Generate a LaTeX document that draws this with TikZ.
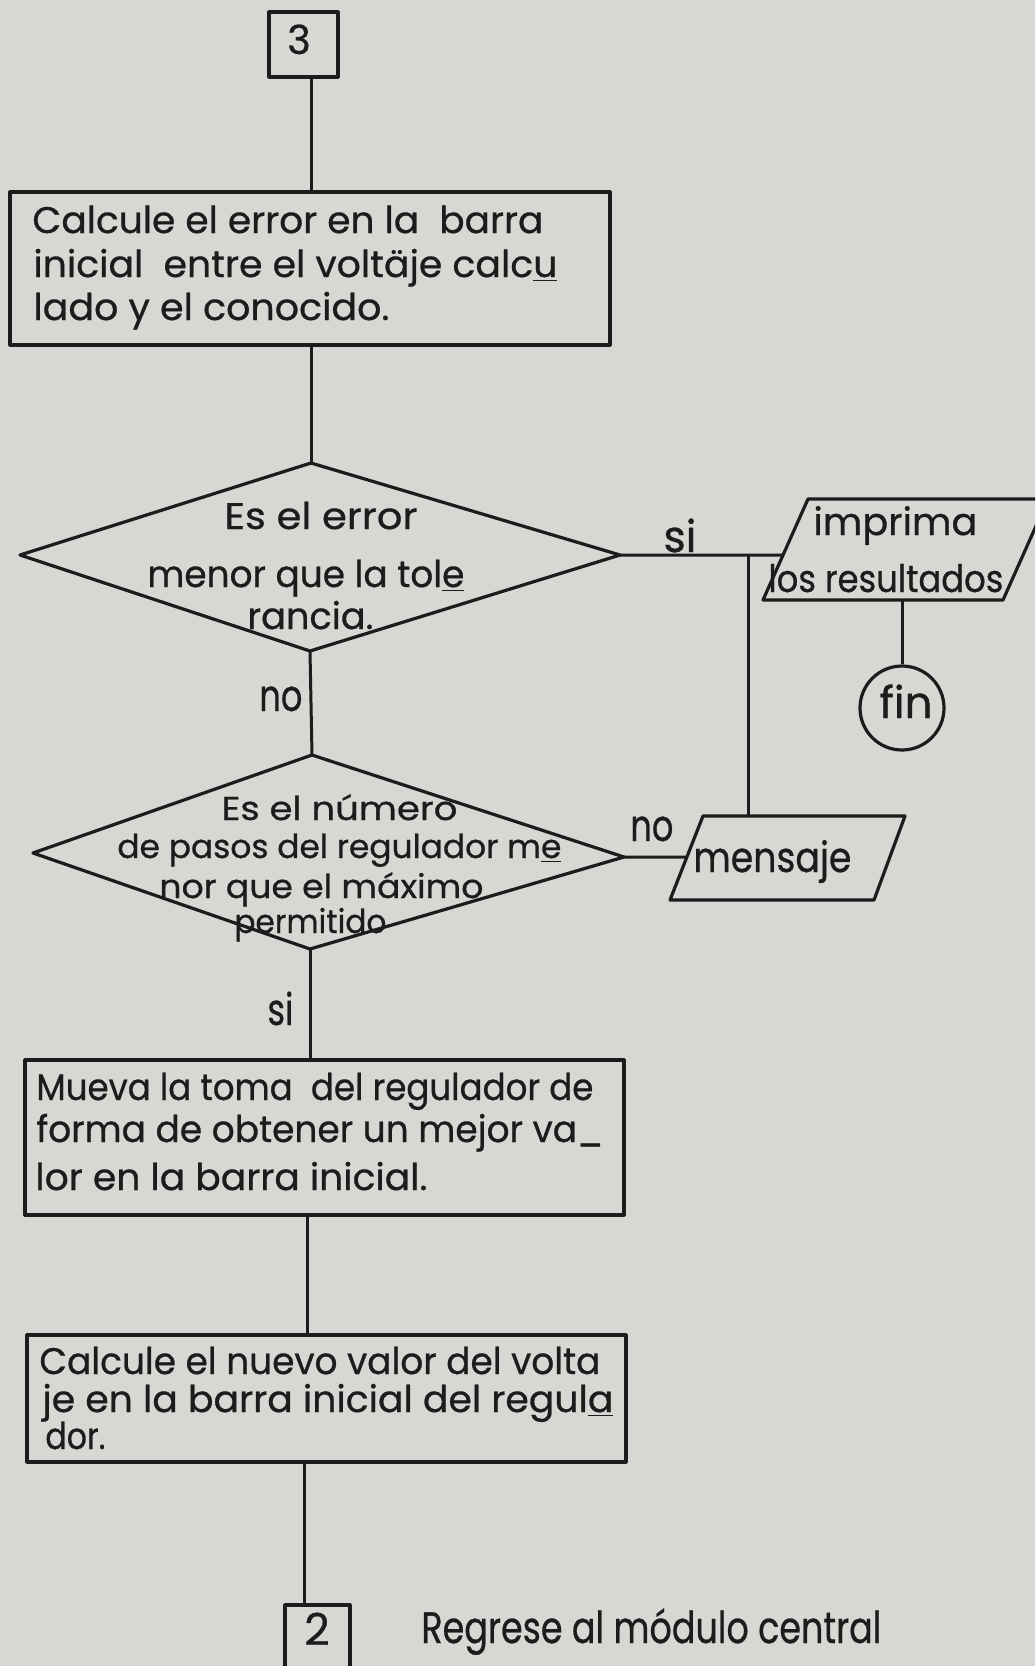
\documentclass[tikz,border=0pt]{standalone}
\usepackage{fontspec}
\usepackage{graphicx}
\newfontfamily\lett[FakeBold=0.7]{Poppins}
\usetikzlibrary{calc}
\definecolor{paper}{RGB}{215,215,212}
\definecolor{ink}{RGB}{28,28,28}
\newcommand{\fw}[2]{\resizebox{#1pt}{\height}{#2}}
\begin{document}
\begin{tikzpicture}[x=0.5pt,y=-0.5pt,line join=round,
  outline/.style={draw=ink,line width=1.6pt},
  conn/.style={draw=ink,line width=1.5pt},
  box/.style={outline,rectangle,inner sep=0pt},
  txt/.style={anchor=base west,inner sep=0pt,text=ink,font=\lett\fontsize{18.5}{20}\selectfont},
  dtxt/.style={txt,font=\lett\fontsize{16.5}{18}\selectfont},
  lbl/.style={txt,font=\lett\fontsize{22}{24}\selectfont}]
\useasboundingbox (0,0) rectangle (1035,1666);
\clip (0,0) rectangle (1035,1666);
\fill[paper] (0,0) rectangle (1035,1666);

% column guides
\coordinate (col1) at (311,0);
\coordinate (col3) at (307,0);
\coordinate (col4) at (304,0);

% box 3
\node[box,minimum width=34.5pt,minimum height=32.5pt] (b3) at (303.5,44.5) {};
\node[txt,anchor=base] (t3) at (299,54) {\fontsize{20}{22}\selectfont 3};

% first process box
\node[box,minimum width=300pt,minimum height=76.5pt] (c1) at (310,268.5) {};
\node[txt] (c1a) at (32,233) {\fw{255.5}{Calcule el error en la\ \ barra}};
\node[txt] (c1b) at (33,277) {\fw{262}{inicial\ \ entre el voltäje calc\underline{u}}};
\node[txt] (c1c) at (33,320) {\fw{178}{lado y el conocido.}};

% decision 1
\coordinate (d1t) at (311,463);
\coordinate (d1r) at (620,555);
\coordinate (d1b) at (310,651);
\coordinate (d1l) at (20,555);
\draw[outline] (d1t) -- (d1r) -- (d1b) -- (d1l) -- cycle;
\node[txt] (d1a) at (224,529) {\fw{96.5}{Es el error}};
\node[txt] (d1b2) at (147,587) {\fw{158.5}{menor que la tol\underline{e}}};
\node[txt] (d1c) at (247,629) {\fw{63}{rancia.}};

% print box
\coordinate (itl) at (808,499);
\coordinate (itr) at (1048,499);
\coordinate (ibr) at (1003,600);
\coordinate (ibl) at (763,600);
\draw[outline] (itl) -- (itr) -- (ibr) -- (ibl) -- cycle;
\path (ibl) -- (itl) coordinate[pos=0.4455] (impL);
\coordinate (impB) at (902,600);
\node[txt] (ia) at (813,535) {\fontsize{19}{21}\selectfont\fw{82}{imprima}};
\node[txt] (ib) at (768,592) {\fontsize{19}{21}\selectfont\fw{117.5}{los resultados}};

% fin
\node[outline,circle,minimum size=42pt,inner sep=0pt] (fin) at (902,708) {};
\node[lbl,anchor=base] (fint) at (906,718) {\fontsize{22}{24}\selectfont\fw{26.5}{fin}};

% decision 2
\coordinate (d2t) at (312,755);
\coordinate (d2r) at (624,857);
\coordinate (d2b) at (310,949);
\coordinate (d2l) at (33,853);
\draw[outline] (d2t) -- (d2r) -- (d2b) -- (d2l) -- cycle;
\node[dtxt] (d2a) at (221,820) {\fw{118}{Es el número}};
\node[dtxt] (d2b2) at (117,858) {\fw{222}{de pasos del regulador m\underline{e}}};
\node[dtxt] (d2c) at (159,898) {\fw{162}{nor que el máximo}};
\node[dtxt] (d2d) at (234,933) {\fw{76}{permitido}};

% message box
\coordinate (mtl) at (703,816);
\coordinate (mtr) at (905,816);
\coordinate (mbr) at (874,900);
\coordinate (mbl) at (670,900);
\draw[outline] (mtl) -- (mtr) -- (mbr) -- (mbl) -- cycle;
\path (mbl) -- (mtl) coordinate[pos=0.512] (menL);
\node[lbl] (mt) at (693,872) {\fontsize{21}{23}\selectfont\fw{79}{mensaje}};

% junction
\coordinate (jn) at (748,555);

% labels
\node[lbl] (si1) at (663,552) {\fw{16.5}{si}};
\node[lbl] (no1) at (259,711) {\fw{21.5}{no}};
\node[lbl] (no2) at (630,841) {\fw{21.5}{no}};
\node[lbl] (si2) at (267,1025) {\fw{13}{si}};

% move box
\node[box,minimum width=299.5pt,minimum height=77.5pt] (mv) at (324.5,1137.5) {};
\node[txt] (mva) at (36,1100) {\fw{278.5}{Mueva la toma\ \ del regulador de}};
\node[txt] (mvb) at (36,1142) {\fw{283.5}{forma de obtener un mejor va\_}};
\node[txt] (mvc) at (35,1190) {\fw{196}{lor en la barra inicial.}};

% new value box
\node[box,minimum width=299.5pt,minimum height=63.5pt] (nv) at (326.5,1398.5) {};
\node[txt] (nva) at (39,1374) {\fw{280.5}{Calcule el nuevo valor del volta}};
\node[txt] (nvb) at (42,1412) {\fw{285.5}{je en la barra inicial del regul\underline{a}}};
\node[txt] (nvc) at (45,1449) {\fw{30}{dor.}};

% box 2
\node[box,minimum width=32.5pt,minimum height=57.5pt] (b2) at (317.5,1662.5) {};
\node[txt,anchor=base] (t2) at (317,1645) {\fontsize{22}{24}\selectfont 2};
\node[lbl] (rg) at (421,1643) {\fw{230}{Regrese al módulo central}};

% connectors
\draw[conn] (b3.south -| col1) -- (c1.north -| col1);
\draw[conn] (c1.south -| d1t) -- (d1t);
\draw[conn] (d1r) -- (impL);
\draw[conn] (jn) -- (jn |- mtl);
\draw[conn] (impB) -- (fin.north);
\draw[conn] (d1b) -- (d2t);
\draw[conn] (d2r) -- (menL);
\draw[conn] (d2b) -- (mv.north -| d2b);
\draw[conn] (mv.south -| col3) -- (nv.north -| col3);
\draw[conn] (nv.south -| col4) -- (b2.north -| col4);
\end{tikzpicture}
\end{document}
